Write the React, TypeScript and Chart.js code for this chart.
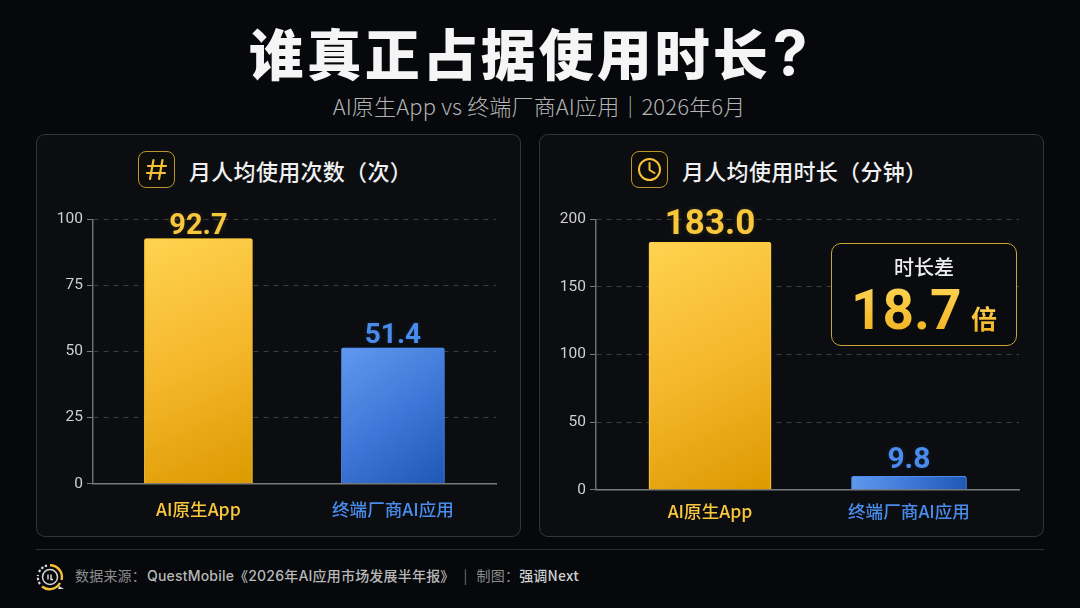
import React, { useEffect, useRef } from "react";
import { Chart, registerables } from "chart.js";

Chart.register(...registerables);

// ---- data ----
const categories = ["AI原生App", "终端厂商AI应用"];
const monthlySessions = [92.7, 51.4];
const monthlyMinutes = [183.0, 9.8];
const sessionTicks = [0, 25, 50, 75, 100];
const minuteTicks = [0, 50, 100, 150, 200];

const FONT = "Roboto, 'Noto Sans CJK SC', sans-serif";
const CJK = "'Noto Sans CJK SC', sans-serif";
const YELLOW = "#f8c73c";
const BLUE = "#4a8cec";

type PanelCfg = {
  values: number[];
  ticks: number[];
  yMax: number;
  xMin: number;
  xMax: number;
  widths: number[];
  labelFont: number[];
  labelGap: number;
  padTop: number;
  padRight: number;
  axisW: number;
  axisH: number;
  tickPad: number;
  canvasW: number;
};

const leftCfg: PanelCfg = {
  values: monthlySessions,
  ticks: sessionTicks,
  yMax: 100,
  xMin: -0.542,
  xMax: 1.53,
  widths: [108, 103],
  labelFont: [29, 28],
  labelGap: 5,
  padTop: 85.3,
  padRight: 25,
  axisW: 57,
  axisH: 53.3,
  tickPad: 7,
  canvasW: 485,
};

const rightCfg: PanelCfg = {
  values: monthlyMinutes,
  ticks: minuteTicks,
  yMax: 200,
  xMin: -0.573,
  xMax: 1.553,
  widths: [122, 115],
  labelFont: [35, 30],
  labelGap: 8,
  padTop: 85.3,
  padRight: 25,
  axisW: 57,
  axisH: 47.3,
  tickPad: 3,
  canvasW: 505,
};

const fills = [
  ["#ffd350", "#f5b72c", "#dc9a00"],
  ["#6199ee", "#3f78d8", "#1f57b5"],
];
const edges = ["#ffd23f", "#4b8df0"];
const glows = ["rgba(255,190,40,0.38)", "rgba(70,140,240,0.38)"];
const textGlows = ["rgba(255,190,40,0.18)", "rgba(70,140,240,0.18)"];
const textColors = [YELLOW, BLUE];

function BarChart({ cfg, left }: { cfg: PanelCfg; left: number }) {
  const ref = useRef<HTMLCanvasElement>(null);
  useEffect(() => {
    const canvas = ref.current!;
    const gradient = (c: any) => {
      const chart = c.chart;
      const i = c.datasetIndex;
      const xs = chart.scales.x;
      const ys = chart.scales.y;
      if (!chart.chartArea || !xs || !ys) return fills[i][1];
      const cx = xs.getPixelForValue(i);
      const w = cfg.widths[i];
      const g = chart.ctx.createLinearGradient(
        cx - w / 2,
        ys.getPixelForValue(cfg.values[i]),
        cx + w / 2,
        ys.getPixelForValue(0)
      );
      g.addColorStop(0, fills[i][0]);
      g.addColorStop(0.5, fills[i][1]);
      g.addColorStop(1, fills[i][2]);
      return g;
    };
    const glowPlugin = {
      id: "glow",
      beforeDatasetDraw(chart: any, args: any) {
        chart.ctx.save();
        chart.ctx.shadowColor = glows[args.index];
        chart.ctx.shadowBlur = 12;
      },
      afterDatasetDraw(chart: any) {
        chart.ctx.restore();
      },
    };
    const valuePlugin = {
      id: "values",
      afterDatasetsDraw(chart: any) {
        const ctx = chart.ctx;
        chart.data.datasets.forEach((ds: any, i: number) => {
          const bar = chart.getDatasetMeta(i).data[0];
          ctx.save();
          ctx.font = `700 ${cfg.labelFont[i]}px ${FONT}`;
          ctx.fillStyle = textColors[i];
          ctx.textAlign = "center";
          ctx.textBaseline = "alphabetic";
          ctx.shadowColor = textGlows[i];
          ctx.shadowBlur = 5;
          ctx.fillText(ds.data[0].y.toFixed(1), bar.x, bar.y - cfg.labelGap);
          ctx.restore();
        });
      },
    };
    const chart = new Chart(canvas, {
      type: "bar",
      data: {
        datasets: categories.map((name, i) => ({
          label: name,
          data: [{ x: i, y: cfg.values[i] }],
          barThickness: cfg.widths[i],
          backgroundColor: gradient,
          borderColor: edges[i],
          borderWidth: 1,
          borderRadius: { topLeft: 2, topRight: 2, bottomLeft: 0, bottomRight: 0 },
          borderSkipped: "bottom",
        })),
      },
      options: {
        animation: false,
        responsive: false,
        devicePixelRatio: 1,
        layout: {
          padding: { top: cfg.padTop, right: cfg.padRight, left: 0, bottom: 0 },
        },
        plugins: { legend: { display: false }, tooltip: { enabled: false } },
        scales: {
          x: {
            type: "linear",
            offset: false,
            stacked: true,
            min: cfg.xMin,
            max: cfg.xMax,
            afterBuildTicks: (s: any) => {
              s.ticks = categories.map((_, i) => ({ value: i }));
            },
            afterFit: (s: any) => {
              s.height = cfg.axisH;
            },
            grid: { display: false, offset: false },
            border: { display: true, color: "#7a7a7a", width: 1.5 },
            ticks: {
              autoSkip: false,
              maxRotation: 0,
              padding: cfg.tickPad,
              callback: (v: any) => categories[v],
              color: (c: any) => textColors[c.index],
              font: { family: CJK, size: 17.6, weight: 500 },
            },
          },
          y: {
            stacked: true,
            min: 0,
            max: cfg.yMax,
            afterBuildTicks: (s: any) => {
              s.ticks = cfg.ticks.map((value) => ({ value }));
            },
            afterFit: (s: any) => {
              s.width = cfg.axisW;
            },
            grid: {
              color: (c: any) =>
                c.tick && c.tick.value === 0 ? "rgba(0,0,0,0)" : "rgba(255,255,255,0.2)",
              tickColor: "#7a7a7a",
              tickLength: 6,
              tickBorderDash: [],
              lineWidth: 1,
            },
            border: { display: true, color: "#6e6e6e", width: 1.5, dash: [5, 5] },
            ticks: {
              autoSkip: false,
              padding: 4,
              color: "#d0d0d0",
              font: { family: FONT, size: 15.5, weight: 400 },
            },
          },
        },
      },
      plugins: [glowPlugin, valuePlugin],
    } as any);
    return () => chart.destroy();
  }, [cfg]);
  return (
    <canvas
      ref={ref}
      width={cfg.canvasW}
      height={403}
      style={{ position: "absolute", left, top: 134, width: cfg.canvasW, height: 403 }}
    />
  );
}

const abs = (s: React.CSSProperties): React.CSSProperties => ({
  position: "absolute",
  whiteSpace: "nowrap",
  ...s,
});

const panelBox = (left: number, width: number): React.CSSProperties => ({
  position: "absolute",
  left,
  top: 134,
  width,
  height: 403,
  boxSizing: "border-box",
  background: "#0b0d11",
  border: "1px solid rgba(255,255,255,0.17)",
  borderRadius: 9,
});

const iconBox = (left: number): React.CSSProperties => ({
  position: "absolute",
  left,
  top: 151,
  width: 37,
  height: 37,
  boxSizing: "border-box",
  border: "1.3px solid #b9952a",
  borderRadius: 8,
  background: "#0d0d0c",
});

const headText: React.CSSProperties = {
  position: "absolute",
  top: 169.5,
  transform: "translateY(-50%)",
  fontFamily: CJK,
  fontSize: 22,
  fontWeight: 500,
  color: "#f0f0f0",
  lineHeight: "28px",
  whiteSpace: "nowrap",
  letterSpacing: 0.3,
};

const goldText: React.CSSProperties = {
  background: "linear-gradient(180deg,#ffd95c 0%,#f0ad17 100%)",
  WebkitBackgroundClip: "text",
  backgroundClip: "text",
  color: "transparent",
};

export default function App() {
  return (
    <div
      style={{
        position: "absolute",
        left: 0,
        top: 0,
        width: 1080,
        height: 608,
        overflow: "hidden",
        background: "#06080b",
      }}
    >
      <div
        style={abs({
          left: 0,
          width: 1059,
          top: 12,
          textAlign: "center",
          fontFamily: CJK,
          fontSize: 55,
          fontWeight: 900,
          lineHeight: "78px",
          letterSpacing: 3,
          color: "#f5f5f5",
        })}
      >
        谁真正占据使用时长
        <span style={{ fontFamily: "Inter, sans-serif", fontWeight: 700, fontSize: 62, marginLeft: 2 }}>?</span>
      </div>
      <div
        style={abs({
          left: 0,
          width: 1078,
          top: 90,
          textAlign: "center",
          fontFamily: CJK,
          fontSize: 22,
          fontWeight: 300,
          lineHeight: "30px",
          letterSpacing: 0.15,
          color: "#b4b4b4",
        })}
      >
        AI原生App vs 终端厂商AI应用｜2026年6月
      </div>

      <div style={panelBox(36, 485)} />
      <div style={panelBox(539, 505)} />

      <div style={iconBox(138)}>
        <svg width="35" height="35" viewBox="0 0 35 35">
          <g stroke="#f6c137" strokeWidth="2.2" fill="none" strokeLinecap="round">
            <path d="M14.5 8 L11 27 M23.5 8 L20 27 M9 14 H27 M8 21 H26" />
          </g>
        </svg>
      </div>
      <div style={{ ...headText, left: 189 }}>月人均使用次数（次）</div>

      <div style={iconBox(631)}>
        <svg width="35" height="35" viewBox="0 0 35 35">
          <g stroke="#f6c137" strokeWidth="2" fill="none" strokeLinecap="round" strokeLinejoin="round">
            <circle cx="17.5" cy="17.5" r="10.5" />
            <path d="M17.5 11 V18 L22.5 21" />
          </g>
        </svg>
      </div>
      <div style={{ ...headText, left: 682 }}>月人均使用时长（分钟）</div>

      <BarChart cfg={leftCfg} left={36} />
      <BarChart cfg={rightCfg} left={539} />

      <div
        style={{
          position: "absolute",
          left: 831,
          top: 243,
          width: 186,
          height: 103,
          boxSizing: "border-box",
          border: "1.3px solid #c9a53a",
          borderRadius: 10,
          background: "#090b0e",
        }}
      />
      <div
        style={abs({
          left: 831,
          width: 186,
          top: 253,
          textAlign: "center",
          fontFamily: CJK,
          fontSize: 20,
          fontWeight: 500,
          lineHeight: "28px",
          color: "#eeeeee",
        })}
      >
        时长差
      </div>
      <div
        style={abs({
          left: 851,
          top: 276,
          fontFamily: FONT,
          fontSize: 55,
          fontWeight: 700,
          lineHeight: "68px",
          ...goldText,
        })}
      >
        18.7
      </div>
      <div
        style={abs({
          left: 971,
          top: 299,
          fontFamily: CJK,
          fontSize: 26,
          fontWeight: 700,
          lineHeight: "38px",
          ...goldText,
        })}
      >
        倍
      </div>

      <div style={{ position: "absolute", left: 36, top: 549, width: 1008, height: 1, background: "rgba(255,255,255,0.16)" }} />
      <svg style={{ position: "absolute", left: 36, top: 563 }} width="30" height="30" viewBox="0 0 30 30">
        <path d="M14 2.2 A12 12 0 0 1 25.6 17" stroke="#f6c137" strokeWidth="2.4" fill="none" />
        <path d="M24 20 A12 12 0 0 1 6 23.5" stroke="#f6c137" strokeWidth="2.4" fill="none" />
        <path d="M4 21 A12 12 0 0 1 2 12" stroke="#d8d8d8" strokeWidth="2.2" fill="none" strokeDasharray="2.5 1.6" />
        <path d="M3 9 A12 12 0 0 1 11 2.6" stroke="#d8d8d8" strokeWidth="2.2" fill="none" strokeDasharray="2.5 1.6" />
        <circle cx="14" cy="14" r="7.5" stroke="#d8d8d8" strokeWidth="1.5" fill="none" />
        <path d="M12 11.5 V16.5 M15 11.5 V16.5 H17" stroke="#f0f0f0" strokeWidth="1.3" fill="none" />
        <path d="M23 23 L28 26 L22 26 Z" fill="#d8d8d8" />
      </svg>
      <div
        style={abs({
          left: 75,
          top: 565,
          fontFamily: CJK,
          fontSize: 14,
          lineHeight: "20px",
          letterSpacing: 0.2,
          color: "#8c8c8c",
        })}
      >
        数据来源：
        <span style={{ color: "#b8b8b8", marginLeft: 1, fontFamily: "Inter, 'Noto Sans CJK SC', sans-serif", fontWeight: 500 }}>
          QuestMobile《2026年AI应用市场发展半年报》
        </span>
        <span style={{ margin: "0 9px", color: "#777" }}>|</span>
        制图：
        <span style={{ color: "#cfcfcf", fontWeight: 500 }}>强调Next</span>
      </div>
    </div>
  );
}
